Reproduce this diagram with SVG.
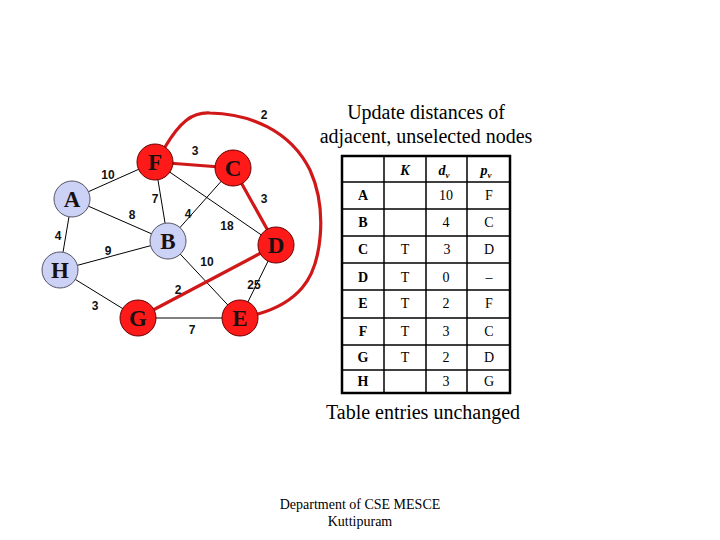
<svg xmlns="http://www.w3.org/2000/svg" width="720" height="540" viewBox="0 0 720 540">
<style>
.e{stroke:#000;stroke-width:1;fill:none}
.r{stroke:#d01818;stroke-width:3.2;fill:none;stroke-linecap:round}
.w{font-family:"Liberation Sans",Arial,sans-serif;font-weight:bold;font-size:12px;fill:#111;text-anchor:middle}
.nr{fill:#ff1a1a;stroke:#600;stroke-width:1}
.nb{fill:#ccd1f6;stroke:#556;stroke-width:1}
.nl{font-family:"Liberation Serif","Times New Roman",serif;font-weight:bold;font-size:23px;fill:#1a1010;text-anchor:middle}
.t{font-family:"Liberation Serif","Times New Roman",serif;font-size:20px;fill:#000;text-anchor:middle}
.c{font-family:"Liberation Serif","Times New Roman",serif;font-size:14px;fill:#000;text-anchor:middle}
.cb{font-weight:bold}
.h{font-family:"Liberation Serif","Times New Roman",serif;font-size:14px;font-weight:bold;font-style:italic;fill:#000;text-anchor:middle}
.g{stroke:#000;stroke-width:1.5}
.f{font-family:"Liberation Serif","Times New Roman",serif;font-size:14px;fill:#000;text-anchor:middle}
</style>
<g id="connectors">
<line class="e" x1="72" y1="199" x2="155" y2="162"/>
<line class="e" x1="72" y1="199" x2="168" y2="241"/>
<line class="e" x1="72" y1="199" x2="60" y2="270"/>
<line class="e" x1="155" y1="162" x2="168" y2="241"/>
<line class="e" x1="155" y1="162" x2="276" y2="245"/>
<line class="e" x1="233" y1="168" x2="168" y2="241"/>
<line class="e" x1="60" y1="270" x2="168" y2="241"/>
<line class="e" x1="60" y1="270" x2="138" y2="318"/>
<line class="e" x1="168" y1="241" x2="240" y2="318"/>
<line class="e" x1="276" y1="245" x2="240" y2="318"/>
<line class="e" x1="138" y1="318" x2="240" y2="318"/>
<line class="r" x1="155" y1="162" x2="233" y2="168"/>
<line class="r" x1="233" y1="168" x2="276" y2="245"/>
<line class="r" x1="276" y1="245" x2="138" y2="318"/>
<path class="r" d="M165,147 C180,122 192,112 210,113 C250,114 290,130 310,170 C328,210 322,265 302,288 C290,302 272,310 258,314"/>
<text class="w" x="108" y="179">10</text>
<text class="w" x="195" y="155">3</text>
<text class="w" x="264" y="119">2</text>
<text class="w" x="155" y="203">7</text>
<text class="w" x="188" y="218">4</text>
<text class="w" x="264" y="203">3</text>
<text class="w" x="132" y="219">8</text>
<text class="w" x="227" y="230">18</text>
<text class="w" x="58" y="240">4</text>
<text class="w" x="108" y="255">9</text>
<text class="w" x="207" y="266">10</text>
<text class="w" x="178" y="294">2</text>
<text class="w" x="254" y="289">25</text>
<text class="w" x="95" y="310">3</text>
<text class="w" x="192" y="334">7</text>
</g>
<g id="node-F"><circle class="nr" cx="155" cy="162" r="18"/><text class="nl" x="155" y="170">F</text></g>
<g id="node-C"><circle class="nr" cx="233" cy="168" r="18"/><text class="nl" x="233" y="176">C</text></g>
<g id="node-A"><circle class="nb" cx="72" cy="199" r="18"/><text class="nl" x="72" y="207">A</text></g>
<g id="node-B"><circle class="nb" cx="168" cy="241" r="18"/><text class="nl" x="168" y="249">B</text></g>
<g id="node-H"><circle class="nb" cx="60" cy="270" r="18"/><text class="nl" x="60" y="278">H</text></g>
<g id="node-D"><circle class="nr" cx="276" cy="245" r="18"/><text class="nl" x="276" y="253">D</text></g>
<g id="node-G"><circle class="nr" cx="138" cy="318" r="18"/><text class="nl" x="138" y="326">G</text></g>
<g id="node-E"><circle class="nr" cx="240" cy="318" r="18"/><text class="nl" x="240" y="326">E</text></g>
<g id="title">
<text class="t" x="426" y="119">Update distances of</text>
<text class="t" x="426" y="143">adjacent, unselected nodes</text>
</g>
<g id="table">
<rect x="342" y="156" width="168" height="237" fill="#fff" stroke="#000" stroke-width="2.5"/>
<line class="g" x1="384" y1="156" x2="384" y2="393"/>
<line class="g" x1="426" y1="156" x2="426" y2="393"/>
<line class="g" x1="467" y1="156" x2="467" y2="393"/>
<line class="g" x1="342" y1="182" x2="510" y2="182"/>
<line class="g" x1="342" y1="209" x2="510" y2="209"/>
<line class="g" x1="342" y1="236" x2="510" y2="236"/>
<line class="g" x1="342" y1="263" x2="510" y2="263"/>
<line class="g" x1="342" y1="290" x2="510" y2="290"/>
<line class="g" x1="342" y1="318" x2="510" y2="318"/>
<line class="g" x1="342" y1="345" x2="510" y2="345"/>
<line class="g" x1="342" y1="370" x2="510" y2="370"/>
<text class="h" x="405" y="175">K</text>
<text class="h" x="444" y="175">d<tspan font-size="9" dy="3">v</tspan></text>
<text class="h" x="486" y="175">p<tspan font-size="9" dy="3">v</tspan></text>
<g class="c">
<text class="c cb" x="363" y="200">A</text><text class="c" x="446" y="200">10</text><text class="c" x="489" y="200">F</text>
<text class="c cb" x="363" y="227">B</text><text class="c" x="446" y="227">4</text><text class="c" x="489" y="227">C</text>
<text class="c cb" x="363" y="254">C</text><text class="c" x="405" y="254">T</text><text class="c" x="447" y="254">3</text><text class="c" x="489" y="254">D</text>
<text class="c cb" x="363" y="282">D</text><text class="c" x="405" y="282">T</text><text class="c" x="446" y="282">0</text><text class="c" x="489" y="282">–</text>
<text class="c cb" x="363" y="308">E</text><text class="c" x="405" y="308">T</text><text class="c" x="446" y="308">2</text><text class="c" x="489" y="308">F</text>
<text class="c cb" x="363" y="336">F</text><text class="c" x="405" y="336">T</text><text class="c" x="446" y="336">3</text><text class="c" x="489" y="336">C</text>
<text class="c cb" x="363" y="362">G</text><text class="c" x="405" y="362">T</text><text class="c" x="446" y="362">2</text><text class="c" x="489" y="362">D</text>
<text class="c cb" x="363" y="386">H</text><text class="c" x="446" y="386">3</text><text class="c" x="489" y="386">G</text>
</g>
</g>
<text class="t" x="423" y="419">Table entries unchanged</text>
<g id="footer">
<text class="f" x="360" y="509">Department of CSE MESCE</text>
<text class="f" x="360" y="526">Kuttipuram</text>
</g>
</svg>
